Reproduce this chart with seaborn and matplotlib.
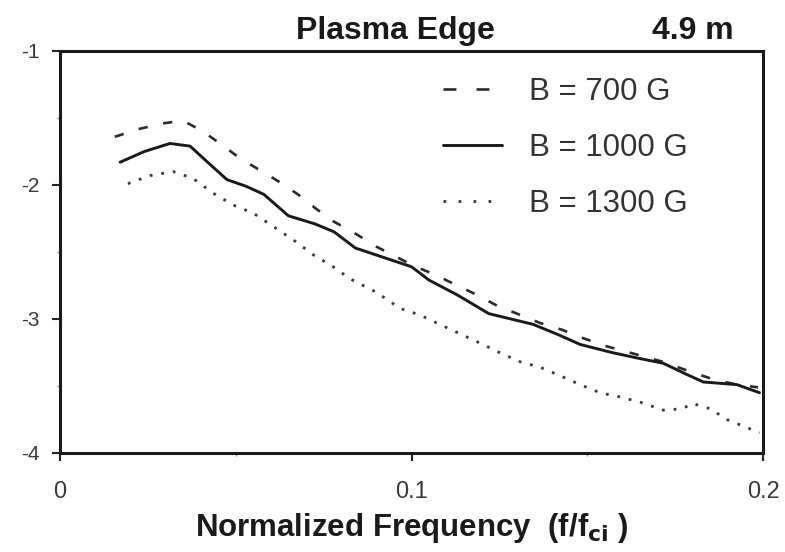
import numpy as np
import pandas as pd
import matplotlib
matplotlib.use("Agg")
import matplotlib.pyplot as plt
import seaborn as sns
from matplotlib.ticker import MultipleLocator

# ---- data ----
x_700 = [0.0156, 0.0228, 0.0293, 0.0350, 0.0407, 0.0460, 0.0512, 0.0569, 0.0626, 0.0677,
         0.0730, 0.0777, 0.0845, 0.0900, 0.1004, 0.1067, 0.1130, 0.1186, 0.1243, 0.1300,
         0.1366, 0.1428, 0.1485, 0.1550, 0.1620, 0.1716, 0.1790, 0.1858, 0.1926, 0.1986]
y_700 = [-1.64, -1.58, -1.54, -1.52, -1.60, -1.70, -1.80, -1.89, -1.98, -2.07,
         -2.18, -2.27, -2.37, -2.46, -2.60, -2.67, -2.75, -2.82, -2.90, -2.96,
         -3.03, -3.08, -3.14, -3.20, -3.25, -3.32, -3.39, -3.45, -3.49, -3.51]

x_1000 = [0.0171, 0.0240, 0.0313, 0.0370, 0.0420, 0.0475, 0.0530, 0.0580, 0.0650, 0.0725,
          0.0780, 0.0840, 0.0920, 0.1000, 0.1050, 0.1130, 0.1220, 0.1346, 0.1420, 0.1480,
          0.1570, 0.1640, 0.1716, 0.1780, 0.1830, 0.1926, 0.1990]
y_1000 = [-1.83, -1.75, -1.69, -1.71, -1.83, -1.96, -2.01, -2.07, -2.23, -2.29,
          -2.35, -2.47, -2.54, -2.61, -2.71, -2.82, -2.96, -3.04, -3.12, -3.19,
          -3.25, -3.29, -3.33, -3.41, -3.47, -3.49, -3.55]

x_1300 = [0.0193, 0.0256, 0.0322, 0.0378, 0.0435, 0.0493, 0.0550, 0.0607, 0.0664, 0.0720,
          0.0777, 0.0825, 0.0900, 0.0967, 0.1024, 0.1080, 0.1138, 0.1195, 0.1250, 0.1310,
          0.1366, 0.1420, 0.1480, 0.1536, 0.1590, 0.1650, 0.1716, 0.1770, 0.1800, 0.1850,
          0.1897, 0.1954, 0.1990]
y_1300 = [-1.99, -1.93, -1.90, -1.95, -2.06, -2.15, -2.21, -2.31, -2.41, -2.52,
          -2.61, -2.70, -2.80, -2.92, -2.97, -3.04, -3.11, -3.18, -3.25, -3.32,
          -3.36, -3.42, -3.49, -3.55, -3.58, -3.62, -3.68, -3.67, -3.63, -3.67,
          -3.75, -3.81, -3.85]

labels = ["B = 700 G", "B = 1000 G", "B = 1300 G"]
xtick_vals = [0, 0.1, 0.2]
xtick_labels = ["0", "0.1", "0.2"]
ytick_vals = [-4, -3, -2, -1]
ytick_labels = ["-4", "-3", "-2", "-1"]

# ---- build long table ----
df = pd.concat([
    pd.DataFrame({"f": x_700, "P": y_700, "B": labels[0]}),
    pd.DataFrame({"f": x_1000, "P": y_1000, "B": labels[1]}),
    pd.DataFrame({"f": x_1300, "P": y_1300, "B": labels[2]}),
], ignore_index=True)

sns.set_style("ticks")
plt.rcParams["font.family"] = ["Liberation Sans", "DejaVu Sans"]

fig = plt.figure(figsize=(7.85, 5.52), dpi=100)
ax = fig.add_axes([60/785, 1 - 453/552, 703/785, 402/552])

styles = {
    labels[0]: dict(linestyle=(0, (3.5, 6)), linewidth=1.9, color="#2a2a2a"),
    labels[1]: dict(linestyle="-", linewidth=2.1, color="#1a1a1a"),
    labels[2]: dict(linestyle=(0, (1.0, 3.2)), linewidth=2.0, color="#3a3a3a"),
}
for lab in labels:
    sub = df[df["B"] == lab]
    sns.lineplot(data=sub, x="f", y="P", ax=ax, label=lab, estimator=None,
                 sort=False, **styles[lab])

ax.set_xlim(0, 0.2)
ax.set_ylim(-4, -1)
ax.set_xticks(xtick_vals)
ax.set_xticklabels(xtick_labels)
ax.set_yticks(ytick_vals)
ax.set_yticklabels(ytick_labels)
ax.xaxis.set_minor_locator(MultipleLocator(0.05))
ax.yaxis.set_minor_locator(MultipleLocator(0.5))
ax.tick_params(axis="both", which="major", direction="out", length=6, width=1.5,
               colors="#222222", labelcolor="#3a3a3a")
ax.tick_params(axis="x", which="major", labelsize=17, pad=14)
ax.tick_params(axis="y", which="major", labelsize=15, pad=9)
ax.tick_params(axis="both", which="minor", direction="out", length=2.5, width=1.0,
               colors="#888888")

for s in ax.spines.values():
    s.set_visible(True)
    s.set_linewidth(2.2)
    s.set_color("#1a1a1a")

ax.set_xlabel("Normalized Frequency  (f/f$_{\\mathbf{ci}}$ )", fontsize=22.5,
              fontweight="bold", labelpad=6, color="#1a1a1a")
ax.set_ylabel("")

fig.text(395/785, 1 - 31/552, "Plasma Edge", ha="center", va="center",
         fontsize=23, fontweight="bold", color="#1a1a1a")
fig.text(734/785, 1 - 31/552, "4.9 m", ha="right", va="center",
         fontsize=23, fontweight="bold", color="#1a1a1a")

leg = ax.legend(loc="upper left", bbox_to_anchor=(443/785, 1 - 77/552),
                bbox_transform=fig.transFigure, frameon=False, borderpad=0,
                borderaxespad=0, fontsize=22.5, handlelength=1.9,
                handletextpad=0.85, labelspacing=0.83)
for t in leg.get_texts():
    t.set_color("#333333")
leg_lines = leg.get_lines()
leg_lines[0].set_dashes([4.9, 7.6])
leg_lines[2].set_dashes([1.0, 4.4])

fig.savefig("out.png", dpi=100)
